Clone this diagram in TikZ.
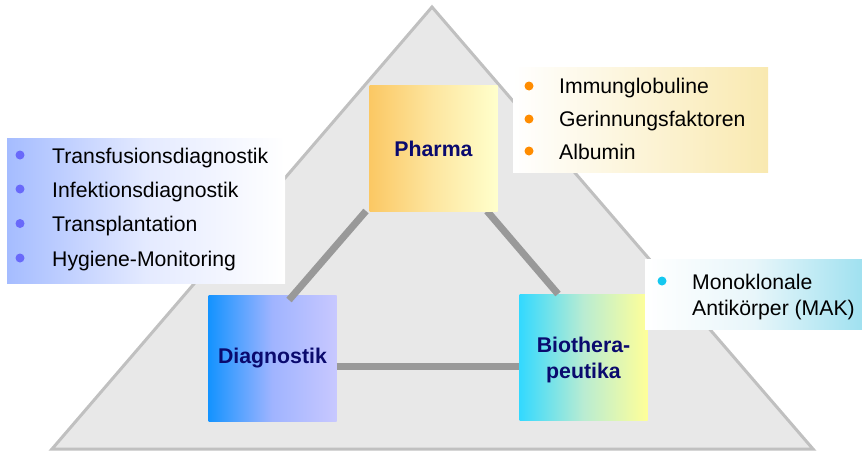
\documentclass[tikz,border=0pt]{standalone}
\usepackage{fontspec}
\setmainfont{Liberation Sans}

\definecolor{triFill}{RGB}{232,232,232}
\definecolor{triLine}{RGB}{192,192,192}
\definecolor{linkGray}{RGB}{153,153,153}
\definecolor{labelBlue}{RGB}{10,10,110}
\definecolor{diagLeft}{RGB}{20,147,255}
\definecolor{diagMid}{RGB}{160,180,255}
\definecolor{diagRight}{RGB}{200,200,255}
\definecolor{pharmaLeft}{RGB}{251,200,100}
\definecolor{pharmaMid}{RGB}{253,230,160}
\definecolor{pharmaRight}{RGB}{255,255,204}
\definecolor{bioLeft}{RGB}{51,217,255}
\definecolor{bioMid}{RGB}{185,236,210}
\definecolor{bioRight}{RGB}{255,255,153}
\definecolor{diagListLeft}{RGB}{165,188,255}
\definecolor{diagListMid}{RGB}{228,234,255}
\definecolor{pharmaListRight}{RGB}{249,233,176}
\definecolor{bioListMid}{RGB}{232,246,250}
\definecolor{bioListRight}{RGB}{160,225,240}
\definecolor{dotBlue}{RGB}{105,105,250}
\definecolor{dotOrange}{RGB}{255,140,0}
\definecolor{dotCyan}{RGB}{20,200,240}

\begin{document}
\begin{tikzpicture}[x=1pt,y=-1pt,
	block/.style={rectangle, inner sep=0pt, minimum width=128pt, minimum height=126pt,
		align=center, text=labelBlue, font=\fontsize{21.3}{26}\selectfont\bfseries},
	listbox/.style={rectangle, inner sep=0pt, anchor=north west},
	item/.style={anchor=base west, inner sep=0pt, font=\fontsize{21.2}{25}\selectfont},
	dot/.style={circle, inner sep=0pt, minimum size=9pt},
	link/.style={draw=linkGray, line width=7pt}]
			
			\useasboundingbox (0,0) rectangle (862,450);
			
			%Triangle
			\coordinate (apex) at (432,7);
			\coordinate (baseLeft) at (52,449);
			\coordinate (baseRight) at (813,449);
			\draw [triLine, fill=triFill, line width=3pt] (baseLeft) -- (apex) -- (baseRight) -- cycle;
			
			%Blocks
			\node (diagnostik) at (272.5,358.5) [block, left color=diagLeft, right color=diagRight, 
			middle color=diagMid] {Diagnostik};
			\node (bio) at (583.5,357.5) [block, left color=bioLeft, right color=bioRight, 
			middle color=bioMid] {\rule{0pt}{21pt}Biothera-\\peutika};
			
			%Links
			\coordinate (diagTop) at (289,300);
			\coordinate (pharmaBottomLeft) at (366,211);
			\coordinate (pharmaBottomRight) at (487,211);
			\coordinate (bioTop) at (558,294);
			\draw [link] (diagTop) -- (pharmaBottomLeft);
			\draw [link] (pharmaBottomRight) -- (bioTop);
			\draw [link] ([yshift=-7.5pt]diagnostik.east) -- ([yshift=-8.5pt]bio.west);
			
			\node (pharma) at (433.5,148.5) [block, left color=pharmaLeft, right color=pharmaRight, 
			middle color=pharmaMid] {Pharma};
			
			%Lists
			\node (diagList) at (7,138) [listbox, minimum width=278pt, minimum height=145pt, 
			left color=diagListLeft, right color=white, middle color=diagListMid] {};
			\node (diagDotA) at (20,155) [dot, fill=dotBlue] {};
			\node (diagDotB) at (20,189) [dot, fill=dotBlue] {};
			\node (diagDotC) at (20,223.5) [dot, fill=dotBlue] {};
			\node (diagDotD) at (20,258) [dot, fill=dotBlue] {};
			\node (diagItemA) at (52,163) [item] {Transfusionsdiagnostik};
			\node (diagItemB) at (52,197) [item] {Infektionsdiagnostik};
			\node (diagItemC) at (52,231.5) [item] {Transplantation};
			\node (diagItemD) at (52,266) [item] {Hygiene-Monitoring};
			
			\node (pharmaList) at (513,67) [listbox, minimum width=255pt, minimum height=105pt, 
			left color=white, right color=pharmaListRight] {};
			\node (pharmaDotA) at (529,86) [dot, fill=dotOrange] {};
			\node (pharmaDotB) at (529,119) [dot, fill=dotOrange] {};
			\node (pharmaDotC) at (529,151) [dot, fill=dotOrange] {};
			\node (pharmaItemA) at (559,93) [item] {Immunglobuline};
			\node (pharmaItemB) at (559,126) [item] {Gerinnungsfaktoren};
			\node (pharmaItemC) at (559,159) [item] {Albumin};
			
			\node (bioList) at (645,259) [listbox, minimum width=217pt, minimum height=70pt, 
			left color=white, right color=bioListRight, middle color=bioListMid] {};
			\node (bioDot) at (662,281) [dot, fill=dotCyan] {};
			\node (bioItemA) at (692,289) [item] {Monoklonale};
			\node (bioItemB) at (692,315) [item] {Antikörper (MAK)};
			
			\end{tikzpicture}
\end{document}
